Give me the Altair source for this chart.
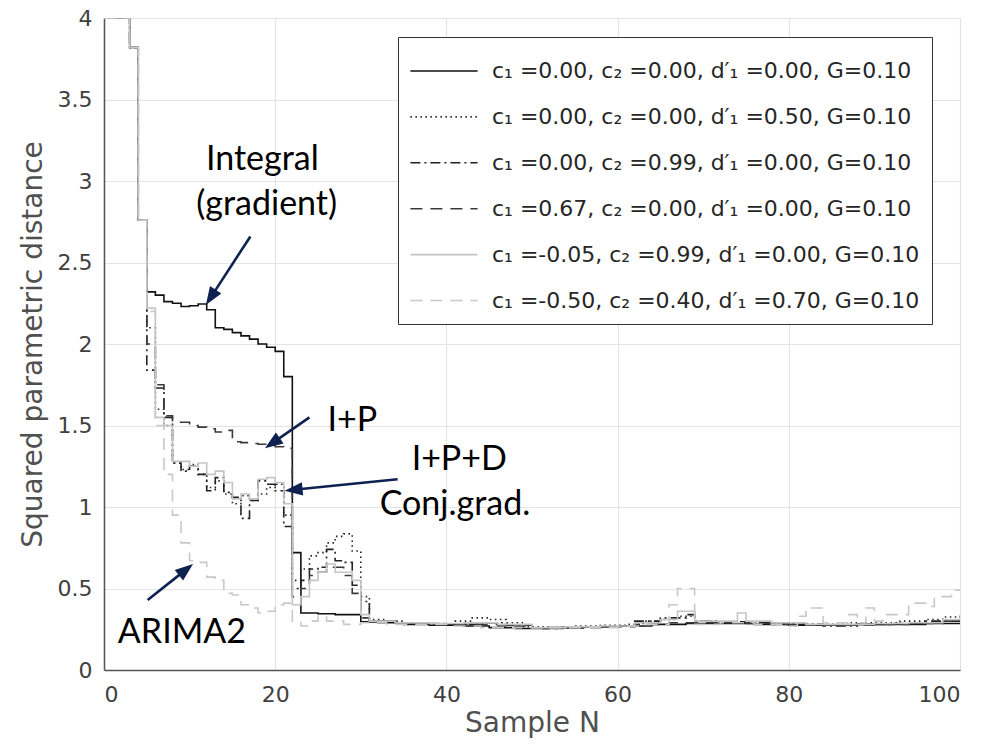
import math
import altair as alt
import pandas as pd

# ---------------- data ----------------
labels = [
    "c₁ =0.00, c₂ =0.00, d′₁ =0.00, G=0.10",
    "c₁ =0.00, c₂ =0.00, d′₁ =0.50, G=0.10",
    "c₁ =0.00, c₂ =0.99, d′₁ =0.00, G=0.10",
    "c₁ =0.67, c₂ =0.00, d′₁ =0.00, G=0.10",
    "c₁ =-0.05, c₂ =0.99, d′₁ =0.00, G=0.10",
    "c₁ =-0.50, c₂ =0.40, d′₁ =0.70, G=0.10",
]

s1_n = [0,3,4,5,6,7,8,9,10,11,12,13,14,15,16,17,18,19,20,21,22,23,25,27,30,32,35,38,42,45,48,52,56,60,64,68,72,76,80,84,88,92,96,100]
s1_v = [4.0,3.82,2.76,2.32,2.30,2.26,2.25,2.23,2.235,2.245,2.21,2.10,2.09,2.07,2.05,2.03,2.00,1.98,1.955,1.80,0.72,0.35,0.345,0.34,0.295,0.29,0.28,0.275,0.27,0.26,0.255,0.26,0.265,0.27,0.28,0.285,0.285,0.28,0.275,0.275,0.28,0.28,0.285,0.29]

s2_n = [0,3,4,5,6,7,8,9,10,11,12,13,14,15,16,17,18,19,20,21,22,23,24,25,26,27,28,29,30,31,33,35,38,41,43,45,47,49,52,55,58,61,63,65,67,69,72,75,78,81,84,87,90,93,96,98,100]
s2_v = [4.0,3.82,2.76,2.10,1.60,1.50,1.27,1.23,1.26,1.20,1.12,1.16,1.08,1.02,1.07,1.04,1.08,1.12,1.14,0.95,0.55,0.62,0.70,0.72,0.78,0.82,0.835,0.73,0.45,0.31,0.30,0.29,0.28,0.30,0.32,0.31,0.29,0.265,0.26,0.27,0.275,0.28,0.30,0.31,0.33,0.30,0.29,0.29,0.285,0.28,0.28,0.29,0.29,0.30,0.31,0.325,0.34]

s3_n = [0,3,4,5,6,7,8,9,10,11,12,13,14,15,16,17,18,19,20,21,22,23,24,25,26,27,28,29,30,31,34,37,40,44,47,50,53,56,59,62,65,68,69,72,76,80,84,88,92,96,100]
s3_v = [4.0,3.82,2.76,1.84,1.73,1.55,1.27,1.22,1.25,1.20,1.10,1.18,1.09,1.06,0.93,1.04,1.16,1.14,1.10,0.88,0.50,0.55,0.62,0.63,0.74,0.67,0.66,0.52,0.42,0.30,0.29,0.285,0.28,0.29,0.275,0.255,0.26,0.265,0.27,0.30,0.32,0.34,0.30,0.295,0.29,0.28,0.27,0.28,0.285,0.30,0.33]

s4_n = [0,3,4,5,6,7,8,9,10,11,12,13,14,15,16,17,18,19,20,21,22,23,24,25,26,27,28,29,30,31,34,38,42,46,50,54,58,62,66,70,74,78,82,86,90,94,98,100]
s4_v = [4.0,3.82,2.76,2.0,1.75,1.56,1.52,1.52,1.50,1.49,1.48,1.46,1.47,1.40,1.395,1.39,1.385,1.38,1.37,1.36,0.45,0.50,0.58,0.60,0.63,0.63,0.58,0.47,0.32,0.30,0.29,0.28,0.28,0.27,0.255,0.26,0.265,0.28,0.29,0.29,0.285,0.28,0.275,0.275,0.28,0.285,0.30,0.31]

s5_n = [0,3,4,5,6,7,8,9,10,11,12,13,14,15,16,17,18,19,20,21,22,23,24,25,26,27,28,29,30,31,34,38,42,46,50,54,58,62,65,67,69,72,74,75,78,82,86,90,94,98,100]
s5_v = [4.0,3.82,2.76,2.22,1.55,1.50,1.28,1.28,1.25,1.27,1.20,1.22,1.15,1.05,1.08,1.05,1.17,1.18,1.15,1.02,0.40,0.45,0.55,0.60,0.65,0.60,0.60,0.55,0.34,0.30,0.29,0.285,0.29,0.28,0.26,0.265,0.27,0.29,0.31,0.36,0.30,0.30,0.35,0.30,0.29,0.28,0.28,0.285,0.29,0.31,0.33]

s6_n = [0,3,4,5,6,7,8,9,10,11,12,13,14,15,16,17,18,19,20,21,22,23,24,25,26,28,30,33,36,40,44,48,52,56,60,63,66,67,69,72,76,80,81,82,84,87,88,89,90,91,94,96,97,99,100]
s6_v = [4.0,3.82,2.76,2.2,1.5,1.2,0.95,0.78,0.67,0.66,0.57,0.55,0.47,0.46,0.40,0.38,0.35,0.36,0.40,0.41,0.30,0.27,0.30,0.33,0.30,0.28,0.29,0.28,0.28,0.27,0.26,0.25,0.26,0.26,0.27,0.28,0.40,0.50,0.28,0.29,0.28,0.27,0.33,0.38,0.29,0.34,0.29,0.38,0.30,0.34,0.41,0.39,0.45,0.49,0.49]

x_ticks = [0, 20, 40, 60, 80, 100]
y_ticks = [0, 0.5, 1, 1.5, 2, 2.5, 3, 3.5, 4]

# annotations
ann_text = ["Integral", "(gradient)", "I+P", "I+P+D", "Conj.grad.", "ARIMA2"]
ann_n = [18.5, 19.0, 29.0, 41.5, 41.0, 9.1]
ann_v = [3.13, 2.85, 1.53, 1.29, 1.01, 0.23]

arr_n0 = [17.1, 24.0, 34.3, 5.1]
arr_v0 = [2.66, 1.55, 1.17, 0.43]
arr_n1 = [11.9, 18.8, 21.1, 10.4]
arr_v1 = [2.24, 1.36, 1.10, 0.65]

# ---------------- styling ----------------
W, H = 856, 652
colors = ["#111111", "#222222", "#222222", "#3a3a3a", "#c4c4c4", "#c8c8c8"]
dashes = [[1, 0], [1.5, 3.5], [10, 4, 2, 4], [12, 8], [1, 0], [12, 8]]
navy = "#0e2150"

series = [(s1_n, s1_v), (s2_n, s2_v), (s3_n, s3_v), (s4_n, s4_v), (s5_n, s5_v), (s6_n, s6_v)]
rows = []
for lab, (ns, vs) in zip(labels, series):
    for n, v in zip(ns, vs):
        rows.append({"n": n, "v": v, "s": lab})
df = pd.DataFrame(rows)

xs = alt.Scale(domain=[0, 100], nice=False)
ys = alt.Scale(domain=[0, 4], nice=False)

lines = alt.Chart(df).mark_line(interpolate="step-after", strokeWidth=1.6, clip=True).encode(
    x=alt.X("n:Q", scale=xs, axis=alt.Axis(values=x_ticks, title="Sample N", grid=True, ticks=False,
                                           labelFontSize=22, labelPadding=14, titleFontSize=28,
                                           titlePadding=4, titleFontWeight="normal")),
    y=alt.Y("v:Q", scale=ys, axis=alt.Axis(values=y_ticks, format="~g", title="Squared parametric distance",
                                           grid=True, ticks=False, labelFontSize=22, labelPadding=12,
                                           titleFontSize=28, titlePadding=10, titleFontWeight="normal")),
    color=alt.Color("s:N", scale=alt.Scale(domain=labels, range=colors),
                    legend=alt.Legend(orient="none", legendX=294, legendY=19, title=None,
                                      symbolType="M-1.6,0H1.6", symbolSize=1764, symbolStrokeWidth=1.6,
                                      labelFontSize=22, labelFont="DejaVu Sans", labelColor="#262626",
                                      labelLimit=0, fillColor="white", strokeColor="#333333",
                                      padding=12, rowPadding=12.9, labelOffset=26, symbolOffset=12)),
    strokeDash=alt.StrokeDash("s:N", scale=alt.Scale(domain=labels, range=dashes), legend=None),
    order=alt.Order("n:Q"),
)

# arrows
px_n = W / 100.0
px_v = H / 4.0
arows = []
for a, b, c, d in zip(arr_n0, arr_v0, arr_n1, arr_v1):
    dx = (c - a) * px_n
    dy = -(d - b) * px_v
    L = math.hypot(dx, dy)
    ang = math.degrees(math.atan2(dx, -dy)) % 360
    back = 9.0
    ce = c - dx / L * back / px_n
    de = d + dy / L * back / px_v
    arows.append({"n0": a, "v0": b, "n1": ce, "v1": de, "nt": c, "vt": d, "ang": ang})
adf = pd.DataFrame(arows)

shafts = alt.Chart(adf).mark_rule(color=navy, strokeWidth=2.6).encode(
    x=alt.X("n0:Q", scale=xs), y=alt.Y("v0:Q", scale=ys), x2="n1:Q", y2="v1:Q")
heads = alt.Chart(adf).mark_point(shape="M0,0L0.75,2L-0.75,2Z", filled=True, color=navy, opacity=1,
                                  size=324, strokeWidth=0).encode(
    x=alt.X("nt:Q", scale=xs), y=alt.Y("vt:Q", scale=ys), angle=alt.Angle("ang:Q", scale=None))

tdf = pd.DataFrame({"t": ann_text, "n": ann_n, "v": ann_v})
texts = alt.Chart(tdf).mark_text(font="Lato", fontSize=34, color="black", align="center",
                                 baseline="middle").encode(
    x=alt.X("n:Q", scale=xs), y=alt.Y("v:Q", scale=ys), text="t:N")

chart = alt.layer(lines, shafts, heads, texts).properties(
    width=W, height=H,
    autosize=alt.AutoSizeParams(type="none"),
    padding={"left": 104, "top": 18, "right": 21, "bottom": 79},
).configure_view(stroke="#e4e4e4", strokeWidth=1).configure_axis(
    gridColor="#e4e4e4", gridWidth=1.2, domainColor="#555555", domainWidth=1.5,
    labelColor="#404040", titleColor="#505050", labelFont="DejaVu Sans", titleFont="DejaVu Sans",
)

chart.save("out.html", embed_options={"renderer": "svg", "actions": False})
